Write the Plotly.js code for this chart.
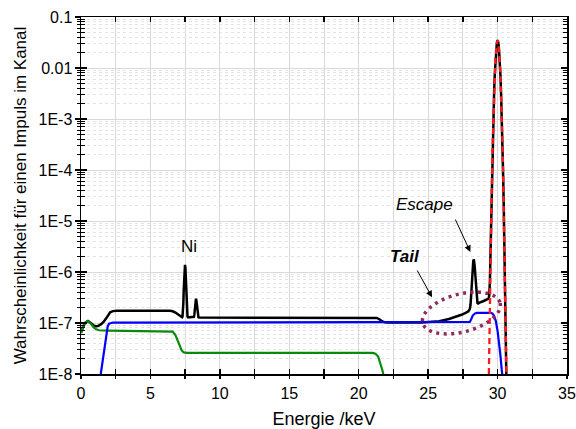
<!DOCTYPE html>
<html>
<head>
<meta charset="utf-8">
<script src="https://cdn.plot.ly/plotly-3.0.1.min.js"></script>
<style>html,body{margin:0;padding:0;background:#fff;}#chart{width:576px;height:429px;}</style>
</head>
<body>
<div id="chart"></div>
<script>
// ---- data ----
const totalX = [0, 0.15, 0.3, 0.5, 0.7, 0.9, 1.1, 1.22, 1.45, 1.64, 1.8, 1.95, 2.1, 2.3, 2.6, 6.4, 6.6, 6.8, 7.0, 7.15, 7.28,
  7.31, 7.34, 7.37, 7.40, 7.43, 7.46, 7.49, 7.52, 7.55, 7.58, 7.61, 7.64, 7.67, 7.72,
  8.10, 8.13, 8.16, 8.19, 8.22, 8.25, 8.28, 8.31, 8.34, 8.37, 8.40, 8.43, 8.46, 8.5,
  21.2, 21.3, 21.45, 21.6, 21.75, 21.9, 22.1, 24.5, 25.2, 25.8, 26.5, 27.0, 27.4, 27.7, 27.9,
  28.0, 28.05, 28.1, 28.15, 28.2, 28.25, 28.28, 28.3, 28.35, 28.4, 28.45, 28.5, 28.55, 28.6, 28.7, 29.0, 29.3,
  29.35, 29.4, 29.45, 29.5, 29.55, 29.6, 29.65, 29.7, 29.75, 29.8, 29.85, 29.9, 29.95, 30.0,
  30.05, 30.1, 30.15, 30.2, 30.25, 30.3, 30.35, 30.4, 30.45, 30.5, 30.55, 30.6, 30.65];
const totalY = [6.4e-8, 8.5e-8, 1.01e-7, 1.09e-7, 1.0e-7, 9.0e-8, 8.6e-8, 8.7e-8, 9.5e-8, 1.06e-7, 1.22e-7, 1.45e-7, 1.62e-7, 1.71e-7, 1.73e-7, 1.73e-7, 1.7e-7, 1.6e-7, 1.45e-7, 1.36e-7, 1.3e-7,
  1.34e-7, 1.58e-7, 2.44e-7, 4.56e-7, 8.2e-7, 1.2e-6, 1.38e-6, 1.2e-6, 8.2e-7, 4.56e-7, 2.44e-7, 1.58e-7, 1.34e-7, 1.28e-7,
  1.29e-7, 1.32e-7, 1.44e-7, 1.73e-7, 2.23e-7, 2.76e-7, 3.0e-7, 2.76e-7, 2.23e-7, 1.73e-7, 1.44e-7, 1.32e-7, 1.29e-7, 1.28e-7,
  1.28e-7, 1.26e-7, 1.2e-7, 1.12e-7, 1.06e-7, 1.03e-7, 1.02e-7, 1.02e-7, 1.04e-7, 1.08e-7, 1.2e-7, 1.32e-7, 1.45e-7, 1.58e-7, 1.7e-7,
  1.87e-7, 2.25e-7, 3.54e-7, 6.7e-7, 1.19e-6, 1.66e-6, 1.75e-6, 1.71e-6, 1.31e-6, 7.9e-7, 4.3e-7, 2.84e-7, 2.45e-7, 2.4e-7, 2.5e-7, 2.7e-7, 2.95e-7,
  3.0e-7, 3.4e-7, 6.8e-7, 3.0e-6, 1.66e-5, 8.26e-5, 3.41e-4, 1.165e-3, 3.29e-3, 7.71e-3, 1.494e-2, 2.40e-2, 3.18e-2, 3.50e-2,
  3.18e-2, 2.40e-2, 1.494e-2, 7.71e-3, 3.29e-3, 1.165e-3, 3.41e-4, 8.26e-5, 1.66e-5, 2.74e-6, 3.77e-7, 4.29e-8, 4.07e-9];

const backX = [0, 0.15, 0.3, 0.5, 0.7, 0.9, 1.1, 1.3, 2, 6.4, 6.6, 6.8, 6.95, 7.1, 7.25, 7.4, 7.6, 21.0, 21.2, 21.4, 21.55, 21.7, 21.85];
const backY = [6.4e-8, 8.5e-8, 1.0e-7, 1.08e-7, 9.8e-8, 8.3e-8, 7.5e-8, 7.2e-8, 7.1e-8, 7.0e-8, 6.8e-8, 5.8e-8, 4.6e-8, 3.5e-8, 2.9e-8, 2.65e-8, 2.6e-8, 2.6e-8, 2.5e-8, 2.2e-8, 1.7e-8, 1.2e-8, 8e-9];

const contX = [1.38, 1.5, 1.65, 1.8, 1.92, 2.02, 2.15, 2.3, 2.6, 27.9, 28.0, 28.1, 28.2, 28.35, 28.5, 29.5, 29.62, 29.75, 29.87, 30.0, 30.1, 30.2, 30.3, 30.38];
const contY = [8.3e-9, 1.4e-8, 2.7e-8, 5.0e-8, 8.5e-8, 9.7e-8, 1.01e-7, 1.02e-7, 1.02e-7, 1.02e-7, 1.05e-7, 1.18e-7, 1.38e-7, 1.53e-7, 1.58e-7, 1.58e-7, 1.54e-7, 1.38e-7, 1.1e-7, 7.0e-8, 4.4e-8, 2.4e-8, 1.2e-8, 8e-9];

const photoX = [29.35, 29.4, 29.45, 29.5, 29.55, 29.6, 29.65, 29.7, 29.75, 29.8, 29.85, 29.9, 29.95, 30.0,
  30.05, 30.1, 30.15, 30.2, 30.25, 30.3, 30.35, 30.4, 30.45, 30.5, 30.55, 30.6, 30.65];
const photoY = [4.07e-9, 4.29e-8, 3.77e-7, 2.74e-6, 1.66e-5, 8.26e-5, 3.41e-4, 1.165e-3, 3.29e-3, 7.71e-3, 1.494e-2, 2.40e-2, 3.18e-2, 3.50e-2,
  3.18e-2, 2.40e-2, 1.494e-2, 7.71e-3, 3.29e-3, 1.165e-3, 3.41e-4, 8.26e-5, 1.66e-5, 2.74e-6, 3.77e-7, 4.29e-8, 4.07e-9];

const yTickVals = [1e-8, 1e-7, 1e-6, 1e-5, 1e-4, 1e-3, 0.01, 0.1];
const yTickText = ['1E-8', '1E-7', '1E-6', '1E-5', '1E-4', '1E-3', '0.01', '0.1'];
const xTickVals = [0, 5, 10, 15, 20, 25, 30, 35];
const xTickText = ['0', '5', '10', '15', '20', '25', '30', '35'];

// ---- layout ----
const M = {l: 81, r: 9, t: 17, b: 55};
const W = 576, H = 429;
const pw = W - M.l - M.r, ph = H - M.t - M.b;
const FONT = 'Liberation Sans, Arial, sans-serif';

// dotted ellipse (annotation decoration) in pixel space -> paper coords
function ellipsePath(cx, cy, a, b, angDeg) {
  const t = angDeg * Math.PI / 180;
  let p = '';
  for (let i = 0; i <= 72; i++) {
    const u = i / 72 * 2 * Math.PI;
    const ex = a * Math.cos(u), ey = b * Math.sin(u);
    const px = cx + ex * Math.cos(t) - ey * Math.sin(t);
    const py = cy + ex * Math.sin(t) + ey * Math.cos(t);
    const xp = (px - M.l) / pw, yp = (H - M.b - py) / ph;
    p += (i === 0 ? 'M' : 'L') + xp.toFixed(5) + ',' + yp.toFixed(5);
  }
  return p + 'Z';
}

const traces = [
  {x: totalX, y: totalY, mode: 'lines', line: {color: '#000000', width: 2.5}, hoverinfo: 'skip'},
  {x: backX, y: backY, mode: 'lines', line: {color: '#0a8a0a', width: 2.2}, hoverinfo: 'skip'},
  {x: contX, y: contY, mode: 'lines', line: {color: '#0000ff', width: 2.2}, hoverinfo: 'skip'},
  {x: photoX, y: photoY, mode: 'lines', line: {color: '#ff1a1a', width: 2.3, dash: '6px,4px'}, hoverinfo: 'skip'},
  {x: [null], y: [null], xaxis: 'x2', yaxis: 'y2', mode: 'lines', hoverinfo: 'skip'}
];

const layout = {
  width: W, height: H,
  margin: M,
  showlegend: false,
  paper_bgcolor: '#ffffff', plot_bgcolor: '#ffffff',
  font: {family: FONT, size: 16, color: '#000'},
  xaxis: {
    range: [0, 35], tickmode: 'array', tickvals: xTickVals, ticktext: xTickText,
    ticks: 'inside', ticklen: 5, tickwidth: 1.3, tickcolor: '#000',
    mirror: 'allticks', showline: true, linecolor: '#000', linewidth: 1.5,
    showgrid: true, gridcolor: '#d9d9d9', gridwidth: 1, zeroline: false,
    ticklabelstandoff: 4,
    tickfont: {family: FONT, size: 16, color: '#000'},
    minor: {dtick: 2.5, tick0: 0, ticks: 'inside', ticklen: 5, tickwidth: 1.3, tickcolor: '#000', showgrid: true, gridcolor: '#d9d9d9', gridwidth: 1},
    title: {text: 'Energie /keV', font: {family: FONT, size: 18, color: '#000'}, standoff: 14}
  },
  yaxis: {
    type: 'log', range: [-8, -1], tickmode: 'array', tickvals: yTickVals, ticktext: yTickText,
    ticks: 'inside', ticklen: 6, tickwidth: 1.3, tickcolor: '#000',
    mirror: 'allticks', showline: true, linecolor: '#000', linewidth: 1.5,
    showgrid: true, gridcolor: '#d9d9d9', gridwidth: 1, zeroline: false,
    ticklabelstandoff: 4,
    tickfont: {family: FONT, size: 16, color: '#000'},
    minor: {dtick: 'D1', ticks: 'inside', ticklen: 4, tickwidth: 1, tickcolor: '#000', showgrid: true, gridcolor: '#e4e4e4', griddash: 'dot', gridwidth: 1},
    title: {text: 'Wahrscheinlichkeit für einen Impuls im Kanal', font: {family: FONT, size: 17, color: '#000'}, standoff: 7}
  },
  xaxis2: {
    overlaying: 'x', anchor: 'y2', side: 'bottom', range: [0, 35], tickmode: 'array', tickvals: xTickVals,
    showticklabels: false, ticks: 'outside', ticklen: 4, tickwidth: 1.3, tickcolor: '#000',
    showgrid: false, showline: false, zeroline: false,
    minor: {dtick: 2.5, tick0: 0, ticks: 'outside', ticklen: 4, tickwidth: 1.3, tickcolor: '#000', showgrid: false}
  },
  yaxis2: {
    overlaying: 'y', anchor: 'x2', side: 'left', type: 'log', range: [-8, -1], tickmode: 'array', tickvals: yTickVals,
    showticklabels: false, ticks: 'outside', ticklen: 5, tickwidth: 1.3, tickcolor: '#000',
    showgrid: false, showline: false, zeroline: false,
    minor: {dtick: 'D1', ticks: 'outside', ticklen: 3, tickwidth: 1, tickcolor: '#000', showgrid: false}
  },
  shapes: [
    {type: 'path', xref: 'paper', yref: 'paper', path: ellipsePath(461.4, 313, 40, 19, -14.5),
     line: {color: '#8e2a5c', width: 3.5, dash: '3px,4.5px'}, fillcolor: 'rgba(0,0,0,0)'}
  ],
  annotations: [
    {x: 7.78, y: -5.504, xref: 'x', yref: 'y', text: 'Ni', showarrow: false, font: {family: FONT, size: 17, color: '#000'}},
    {x: 24.72, y: -4.686, xref: 'x', yref: 'y', text: '<i>Escape</i>', showarrow: false, font: {family: FONT, size: 17, color: '#000'}},
    {x: 23.31, y: -5.70, xref: 'x', yref: 'y', text: '<b><i>Tail</i></b>', showarrow: false, font: {family: FONT, size: 17, color: '#000'}},
    {x: 28.04, y: -5.608, xref: 'x', yref: 'y', text: '', showarrow: true, ax: -15.7, ay: -34, arrowhead: 2, arrowsize: 1.3, arrowwidth: 1, arrowcolor: '#000'},
    {x: 25.28, y: -6.496, xref: 'x', yref: 'y', text: '', showarrow: true, ax: -15.6, ay: -28.3, arrowhead: 2, arrowsize: 1.3, arrowwidth: 1, arrowcolor: '#000'}
  ]
};

Plotly.newPlot('chart', traces, layout, {staticPlot: true, displayModeBar: false});
</script>
</body>
</html>
